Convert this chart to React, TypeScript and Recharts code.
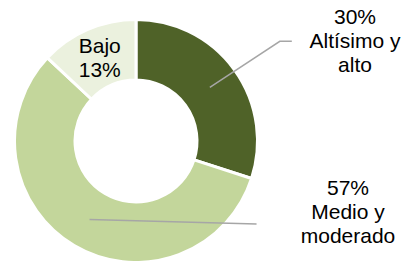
import { PieChart, Pie, Cell } from "recharts";

const categories = ["Altísimo y alto", "Medio y moderado", "Bajo"];
const shares = [30, 57, 13];
const colors = ["#4F6228", "#C3D69B", "#EBF1DE"];

const data = categories.map((name, i) => ({ name, value: shares[i] }));

const RAD = Math.PI / 180;
const font = "'Liberation Sans', Arial, sans-serif";

const renderLabel = (props: any) => {
  const { cx, cy, innerRadius, outerRadius, midAngle, index, value, name } = props;
  const r = (innerRadius + outerRadius) / 2;
  const sx = cx + r * Math.cos(-midAngle * RAD);
  const sy = cy + r * Math.sin(-midAngle * RAD);

  if (index === 2) {
    return (
      <text x={sx} y={sy} textAnchor="middle" fontFamily={font} fontSize={21} fill="#000">
        <tspan x={sx} dy={-4}>{name}</tspan>
        <tspan x={sx} dy={24}>{value}%</tspan>
      </text>
    );
  }

  const words = name.split(" ");
  if (index === 0) {
    // Altísimo y / alto
    const lines = [`${value}%`, words.slice(0, 2).join(" "), words.slice(2).join(" ")];
    return (
      <g>
        <polyline
          points={`${sx},${sy} ${sx + 70},${sy - 46} ${sx + 82},${sy - 46}`}
          fill="none"
          stroke="#A6A6A6"
          strokeWidth={1.5}
        />
        <text x={355} y={24} textAnchor="middle" fontFamily={font} fontSize={21} fill="#000">
          {lines.map((l, i) => (
            <tspan key={i} x={355} dy={i === 0 ? 0 : 24}>{l}</tspan>
          ))}
        </text>
      </g>
    );
  }

  const lines = [`${value}%`, words.slice(0, 2).join(" "), words.slice(2).join(" ")];
  return (
    <g>
      <line x1={sx} y1={sy} x2={sx + 167} y2={sy + 4.5} stroke="#A6A6A6" strokeWidth={1.5} />
      <text x={348} y={195} textAnchor="middle" fontFamily={font} fontSize={21} fill="#000">
        {lines.map((l, i) => (
          <tspan key={i} x={348} dy={i === 0 ? 0 : 24}>{l}</tspan>
        ))}
      </text>
    </g>
  );
};

export default function App() {
  return (
    <div style={{ position: "absolute", left: 0, top: 0, width: 412, height: 261, background: "#fff" }}>
      <PieChart width={412} height={261} margin={{ top: 0, right: 0, bottom: 0, left: 0 }}>
        <Pie
          data={data}
          dataKey="value"
          nameKey="name"
          cx={136}
          cy={141}
          innerRadius={61}
          outerRadius={121.5}
          startAngle={90}
          endAngle={-270}
          stroke="#fff"
          strokeWidth={3}
          label={renderLabel}
          labelLine={false}
          isAnimationActive={false}
        >
          {data.map((d, i) => (
            <Cell key={d.name} fill={colors[i]} />
          ))}
        </Pie>
      </PieChart>
    </div>
  );
}
